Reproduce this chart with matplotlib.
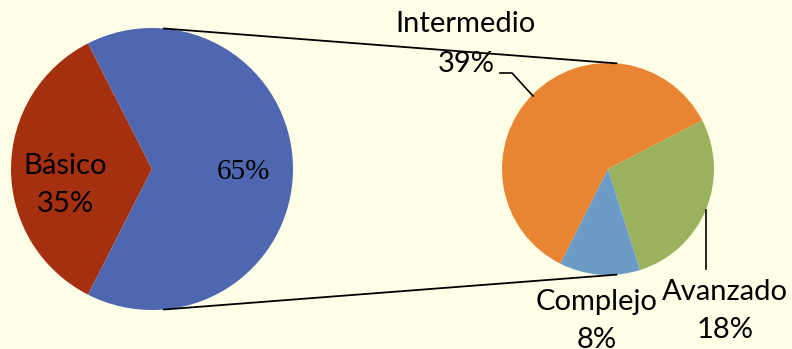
import numpy as np
import matplotlib
matplotlib.use("Agg")
import matplotlib.pyplot as plt

# data
outer_labels = ["Básico", ""]
outer_values = [35, 65]
outer_colors = ["#A5300F", "#4F67B0"]

inner_labels = ["Intermedio", "Avanzado", "Complejo"]
inner_values = [39, 18, 8]
inner_colors = ["#E88432", "#9BB25D", "#6C9BC8"]

W, H = 792, 349
fig = plt.figure(figsize=(W / 100, H / 100), dpi=100)
fig.patch.set_facecolor("#FFFFE8")
ax = fig.add_axes([0, 0, 1, 1])
ax.set_aspect("equal")

sans = ["Lato", "DejaVu Sans"]

# left pie
c1, r1 = (152, 180), 141
ax.pie(outer_values, colors=outer_colors, startangle=180 - outer_values[0] * 1.8,
       center=c1, radius=r1, wedgeprops=dict(linewidth=0), frame=True)

# right pie (breakdown of the 65%)
c2, r2 = (608, 180), 106
ax.pie(inner_values, colors=inner_colors, counterclock=False,
       startangle=27.3 + inner_values[0] / sum(inner_values) * 360,
       center=c2, radius=r2, wedgeprops=dict(linewidth=0), frame=True)
ax.set_xlim(0, W)
ax.set_ylim(0, H)
ax.axis("off")

# connector lines
for sgn in (1, -1):
    a1 = np.deg2rad(sgn * 85.5)
    a2 = np.deg2rad(sgn * 85)
    ax.plot([c1[0] + r1 * np.cos(a1), c2[0] + r2 * np.cos(a2)],
            [c1[1] + r1 * np.sin(a1), c2[1] + r2 * np.sin(a2)],
            color="black", lw=1.3, solid_capstyle="butt")

# labels left pie
ax.text(65, H - 185, f"{outer_labels[0]}\n{outer_values[0]}%", ha="center", va="center",
        fontsize=21, family=sans, linespacing=1.6)
ax.text(243, H - 172, f"{outer_values[1]}%", ha="center", va="center",
        fontsize=21, family=["Liberation Serif", "DejaVu Serif"])

# labels right pie
ax.text(466, H - 44, f"{inner_labels[0]}\n{inner_values[0]}%", ha="center", va="center",
        fontsize=21, family=sans, linespacing=1.65)
ax.text(725, H - 311, f"{inner_labels[1]}\n{inner_values[1]}%", ha="center", va="center",
        fontsize=21, family=sans, linespacing=1.55)
ax.text(597, H - 321, f"{inner_labels[2]}\n{inner_values[2]}%", ha="center", va="center",
        fontsize=21, family=sans, linespacing=1.55)

# leader lines
ax.plot([500, 512, 533], [H - 73, H - 73, H - 96], color="black", lw=1.2)
ax.plot([706, 706], [H - 210, H - 269], color="black", lw=1.2)

fig.savefig("out.png", dpi=100, facecolor=fig.get_facecolor())
